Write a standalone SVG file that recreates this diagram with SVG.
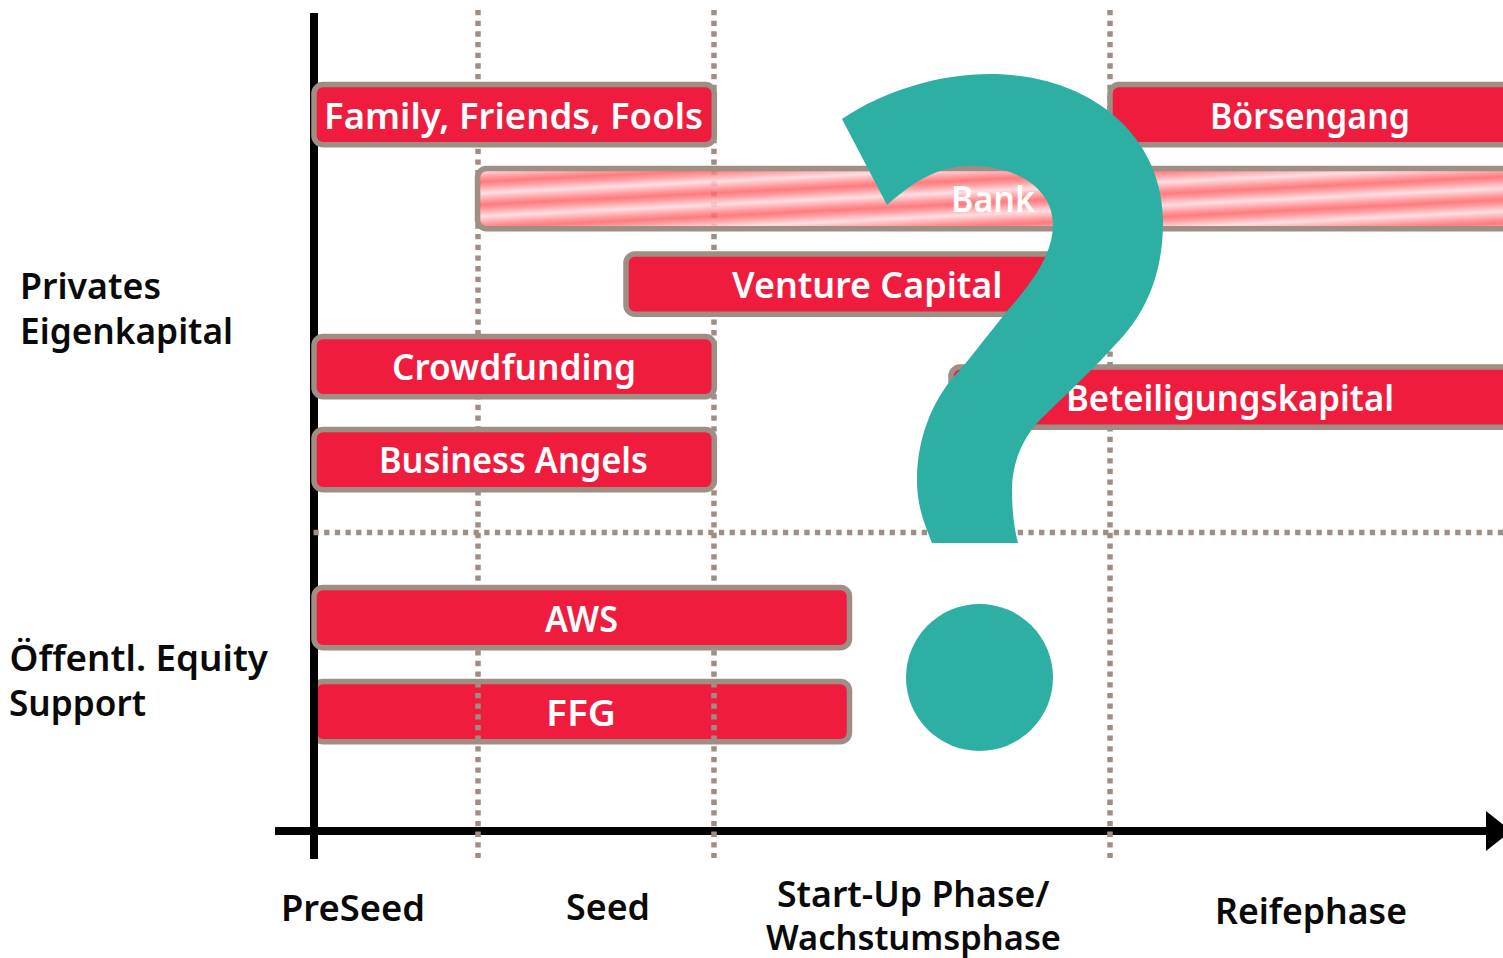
<svg xmlns="http://www.w3.org/2000/svg" width="1503" height="958" viewBox="0 0 1503 958">
<style>
text{font-family:"Noto Sans","Liberation Sans",sans-serif;font-size:35.500px;font-weight:600}
.k{fill:#0a0a0a}
.w{fill:#fff}
.b{fill:#f01c3e;stroke:#9f8e84;stroke-width:5.500}
.d{fill:none;stroke:#9f8e84;stroke-width:5.500;stroke-dasharray:5.300 5.370}
.a{stroke:#000;stroke-width:8;fill:none}
</style>
<defs>
<linearGradient id="g" gradientUnits="userSpaceOnUse" x1="0" y1="21.300" x2="1.150" y2="44.300" spreadMethod="repeat">
<stop offset="0" stop-color="#ff6468"/>
<stop offset="0.15" stop-color="#ff8285"/>
<stop offset="0.5" stop-color="#ffd8de"/>
<stop offset="0.85" stop-color="#ff8285"/>
<stop offset="1" stop-color="#ff6468"/>
</linearGradient>
</defs>
<g id="bar-ffg"><rect class="b" x="314" y="681.500" width="535.500" height="60.300" rx="9"/></g>
<g id="connectors">
<path class="a" d="M314 13V859"/>
<path class="a" d="M275 831H1490"/>
<path d="M1486 811L1511 831L1486 851Z" fill="#000"/>
<path class="d" d="M478 10V858"/>
<path class="d" d="M714 10V858"/>
<path class="d" d="M1110 10V858"/>
<path class="d" d="M313.500 532.500H1503"/>
</g>
<g id="bar-family"><rect class="b" x="314" y="84.500" width="400.300" height="60.300" rx="9"/><text class="w" x="324" y="129" textLength="379" lengthAdjust="spacingAndGlyphs">Family, Friends, Fools</text></g>
<g id="bar-bank"><rect x="477.500" y="168.500" width="1060" height="60.300" rx="9" fill="url(#g)" fill-opacity="0.85" stroke="#9f8e84" stroke-width="5.500"/><text class="w" x="951" y="212" textLength="84" lengthAdjust="spacingAndGlyphs">Bank</text></g>
<g id="bar-venture"><rect class="b" x="626" y="254" width="440" height="60.300" rx="9"/><text class="w" x="732" y="298" textLength="270.500" lengthAdjust="spacingAndGlyphs">Venture Capital</text></g>
<g id="bar-crowd"><rect class="b" x="314" y="336.500" width="400.300" height="60.300" rx="9"/><text class="w" x="392" y="380" textLength="244" lengthAdjust="spacingAndGlyphs">Crowdfunding</text></g>
<g id="bar-angels"><rect class="b" x="314" y="429.500" width="400.300" height="60.300" rx="9"/><text class="w" x="379" y="473" textLength="269" lengthAdjust="spacingAndGlyphs">Business Angels</text></g>
<g id="bar-aws"><rect class="b" x="314" y="587.500" width="535.500" height="60.300" rx="9"/><text class="w" x="545" y="632" textLength="73" lengthAdjust="spacingAndGlyphs">AWS</text></g>
<text class="w" x="546" y="726" textLength="70" lengthAdjust="spacingAndGlyphs">FFG</text>
<g id="bar-boerse"><rect class="b" x="1110" y="84.500" width="430" height="60.300" rx="9"/><text class="w" x="1210" y="129" textLength="200" lengthAdjust="spacingAndGlyphs">Börsengang</text></g>
<g id="bar-beteiligung"><rect class="b" x="951" y="367" width="590" height="60.300" rx="9"/><text class="w" x="1066" y="411" textLength="328" lengthAdjust="spacingAndGlyphs">Beteiligungskapital</text></g>
<g id="question" fill="#2eafa3">
<path d="M842 119C885 90 940 74 990 74C1090 74 1163 135 1163 222C1163 275 1145 315 1115 345C1085 378 1060 400 1037 423C1018 445 1012 470 1012 490C1012 510 1014 528 1018 543H932C923 520 917 505 917 480C917 435 935 395 960 370C975 352 990 332 1008 310C1030 285 1053 255 1053 225C1053 190 1020 166 970 166C935 166 910 185 887 205Z"/>
<circle cx="979.500" cy="677.500" r="73.500"/>
</g>
<g id="labels">
<text class="k" x="20" y="299" textLength="141" lengthAdjust="spacingAndGlyphs">Privates</text>
<text class="k" x="20" y="344" textLength="213" lengthAdjust="spacingAndGlyphs">Eigenkapital</text>
<text class="k" x="9.500" y="671" textLength="258.500" lengthAdjust="spacingAndGlyphs">Öffentl. Equity</text>
<text class="k" x="9" y="716" textLength="137" lengthAdjust="spacingAndGlyphs">Support</text>
<text class="k" x="281" y="921" textLength="144" lengthAdjust="spacingAndGlyphs">PreSeed</text>
<text class="k" x="566" y="920" textLength="84" lengthAdjust="spacingAndGlyphs">Seed</text>
<text class="k" x="777" y="907" textLength="272.500" lengthAdjust="spacingAndGlyphs">Start-Up Phase/</text>
<text class="k" x="766" y="950" textLength="295" lengthAdjust="spacingAndGlyphs" style="font-size:34.500px">Wachstumsphase</text>
<text class="k" x="1215" y="924" textLength="192" lengthAdjust="spacingAndGlyphs">Reifephase</text>
</g>
</svg>
